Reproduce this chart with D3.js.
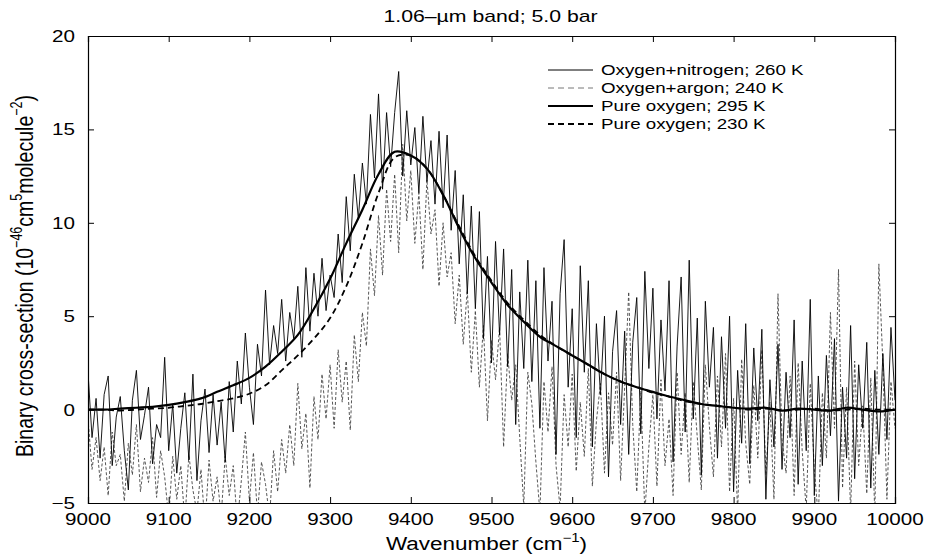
<!DOCTYPE html>
<html>
<head>
<meta charset="utf-8">
<script src="https://cdn.jsdelivr.net/npm/d3@7"></script>
<style>
  body { margin: 0; background: #fff; }
  svg { font-family: "Liberation Sans", Arial, sans-serif; }
</style>
</head>
<body>
<svg id="chart" width="928" height="559"></svg>
<script>
// sampling grids (cm-1)
var wnFine = d3.range(9000, 10001, 5)
var wnSmooth = d3.range(9000, 10001, 20)

// Oxygen+nitrogen; 260 K (thin solid)
var o2n2 = [2.0,-1.5,0.6,-2.6,0.8,1.8,-3.0,-0.4,0.7,-2.2,-4.3,0.5,2.1,-1.6,-0.3,1.2,-2.9,-0.8,-1.5,2.8,
  -2.2,0.3,-3.4,-1.0,0.9,-2.7,1.9,-3.8,-0.6,1.1,-2.3,0.8,-1.9,0.4,-2.8,1.5,-1.2,2.6,0.3,4.1,
  1.2,-0.8,3.5,1.8,6.4,2.4,4.5,3.0,5.9,2.6,5.2,3.8,6.6,2.8,7.6,4.2,7.3,5.0,8.1,5.3,
  7.2,6.0,9.4,6.8,11.4,8.5,12.6,10.2,13.2,11.0,15.8,12.4,16.9,11.8,15.9,13.0,15.9,18.1,12.5,16.0,
  13.1,15.1,11.6,15.7,12.2,14.4,11.0,14.9,10.8,14.7,9.6,12.8,7.8,11.5,6.2,10.9,5.4,10.6,3.8,8.2,
  2.5,9.0,4.0,8.6,2.3,7.5,-0.8,6.3,2.2,8.0,1.5,6.9,-1.0,7.6,2.6,5.8,-2.4,6.2,9.1,1.2,
  5.4,-1.5,7.7,2.0,6.9,-2.0,4.6,0.8,5.0,-3.6,3.1,5.3,-0.8,4.2,-2.4,3.6,6.0,-1.3,7.4,2.2,
  6.5,-0.5,4.8,1.0,6.9,-2.8,3.4,7.1,-1.2,8.0,-0.5,4.9,-3.5,5.8,1.2,4.4,-2.6,3.9,-1.0,5.0,
  -4.4,2.1,-1.8,4.6,-2.9,3.3,-0.6,4.3,-4.8,1.6,-2.0,3.5,-3.2,2.0,-1.5,4.8,-4.0,2.6,-2.2,5.9,
  -4.6,1.8,-3.0,2.9,-1.4,3.8,-4.9,1.2,-2.6,4.5,-3.7,2.4,-1.0,3.6,-4.2,2.1,-2.4,3.0,-1.6,4.4,
  0.5]

// Oxygen+argon; 240 K (thin grey dashed)
var o2ar = [-0.5,-3.2,-1.5,-3.8,-2.0,-4.6,-1.2,-3.0,-2.4,-4.9,-1.8,-3.5,-0.8,-4.4,-2.6,-3.9,-1.5,-4.7,-2.2,-3.6,
  -5.8,-2.5,-4.8,-3.0,-6.0,-2.4,-4.3,-5.5,-3.2,-6.2,-2.7,-4.9,-3.6,-5.7,-2.5,-4.6,-3.0,-6.1,-3.8,-1.2,
  -4.9,-2.3,-5.6,-2.8,-4.0,-5.8,-2.2,-4.4,-1.6,-3.4,-0.8,-3.0,1.4,-2.1,-0.2,-4.2,0.7,-1.6,1.9,-0.5,
  2.4,-1.0,3.2,0.4,2.6,-1.1,4.0,1.5,5.2,3.4,8.6,6.1,10.4,7.2,11.8,9.0,12.6,8.4,14.2,10.1,
  12.8,8.9,11.6,7.5,12.3,9.4,10.7,6.6,10.0,7.1,8.4,4.6,7.2,3.5,6.4,2.0,5.3,1.2,4.5,-0.6,
  3.7,1.6,4.4,-2.0,3.0,0.5,2.4,-1.5,-5.2,2.0,0.3,-2.8,-5.5,1.5,-1.2,2.3,-3.0,-5.3,0.8,-2.0,
  1.9,-3.3,0.4,-2.5,2.2,-4.1,-0.6,1.4,-3.4,0.9,-1.9,2.0,-3.8,1.2,6.3,-0.8,-4.4,1.0,-5.6,-2.0,
  0.8,-4.1,1.6,-3.0,-0.5,-4.6,2.0,-2.4,0.9,-3.9,1.5,-1.5,-4.3,2.4,-0.9,-3.6,1.8,-2.0,3.0,-4.4,
  0.6,-5.6,2.7,-1.8,-4.0,1.3,-2.6,3.2,-3.5,0.4,-4.8,6.2,-1.6,-3.4,1.8,-4.6,2.5,-2.2,-5.4,1.4,
  -3.2,-5.8,0.9,-2.6,5.2,-1.0,7.5,-4.2,1.2,-5.5,2.6,-3.0,0.2,-4.5,1.7,-5.7,7.8,2.4,-4.8,1.5,
  -1.0]

// Pure oxygen; 295 K (thick solid)
var o2warm = [0.0,0.0,0.05,0.1,0.15,0.25,0.4,0.6,0.95,1.3,1.7,2.3,3.1,4.0,5.4,7.0,8.9,10.7,12.6,13.8,
  13.6,12.9,11.5,9.7,8.1,6.8,5.6,4.7,3.9,3.4,2.9,2.4,1.9,1.5,1.2,0.95,0.7,0.5,0.3,0.2,
  0.1,0.05,0.1,-0.05,0.05,0.0,-0.05,0.1,0.0,-0.1,0.0]

// Pure oxygen; 230 K (thick dashed)
var o2cold = [0.0,0.0,-0.05,0.0,0.05,0.1,0.2,0.3,0.45,0.6,0.85,1.3,2.1,2.9,3.8,4.9,6.6,8.9,11.6,13.5,
  13.6,12.9,11.5,9.8,8.2,6.9,5.7,4.8,4.0,3.4,2.9,2.4,1.9,1.5,1.2,0.9,0.7,0.45,0.3,0.2,
  0.1,0.0,0.05,-0.05,0.0,0.05,-0.05,0.0,0.05,0.0,0.0]

var xTicks = [9000, 9100, 9200, 9300, 9400, 9500, 9600, 9700, 9800, 9900, 10000]
var yTicks = [-5, 0, 5, 10, 15, 20]
var names = ["Oxygen+nitrogen; 260 K", "Oxygen+argon; 240 K", "Pure oxygen; 295 K", "Pure oxygen; 230 K"]

// the original lettering is stretched sideways
var SX = 1.25

var svg = d3.select("#chart"),
  margin = {top: 36, right: 33, bottom: 56, left: 88},
  width = +svg.attr("width") - margin.left - margin.right,
  height = +svg.attr("height") - margin.top - margin.bottom,
  g = svg.append("g").attr("transform", "translate(" + margin.left + "," + margin.top + ")")

var x = d3.scaleLinear().domain([9000, 10000]).range([0, width])
var y = d3.scaleLinear().domain([-5, 20]).range([height, 0])

svg.append("defs").append("clipPath").attr("id", "clip")
  .append("rect").attr("width", width).attr("height", height)

var styles = [
  {data: o2n2, wn: wnFine, stroke: "#000", width: 0.9, dash: null},
  {data: o2ar, wn: wnFine, stroke: "#444", width: 0.9, dash: "3,2"},
  {data: o2warm, wn: wnSmooth, stroke: "#000", width: 2.2, dash: null},
  {data: o2cold, wn: wnSmooth, stroke: "#000", width: 1.8, dash: "6,4"}
]

var plot = g.append("g").attr("clip-path", "url(#clip)")
var drawOrder = [1, 0, 3, 2]
drawOrder.forEach(function(i) {
  var s = styles[i]
  var line = d3.line()
    .x(function(d, j) { return x(s.wn[j]) })
    .y(function(d) { return y(d) })
    .curve(i >= 2 ? d3.curveCatmullRom : d3.curveLinear)
  plot.append("path")
    .attr("fill", "none")
    .attr("stroke", s.stroke)
    .attr("stroke-width", s.width)
    .attr("stroke-dasharray", s.dash)
    .attr("stroke-linejoin", "round")
    .attr("d", line(s.data))
})

// axes: ticks pointing inward on all four sides, labels drawn separately
g.append("g").attr("transform", "translate(0," + height + ")")
  .call(d3.axisBottom(x).tickValues(xTicks).tickSize(-6).tickFormat(""))
g.append("g")
  .call(d3.axisTop(x).tickValues(xTicks).tickSize(-6).tickFormat(""))
g.append("g")
  .call(d3.axisLeft(y).tickValues(yTicks).tickSize(-6).tickFormat(""))
g.append("g").attr("transform", "translate(" + width + ",0)")
  .call(d3.axisRight(y).tickValues(yTicks).tickSize(-6).tickFormat(""))
g.selectAll(".domain").attr("stroke", "#000").attr("stroke-width", 1.2)
g.selectAll(".tick line").attr("stroke", "#000")

function stretched(parent, px, py, anchor, size) {
  return parent.append("text")
    .attr("transform", "translate(" + px + "," + py + ") scale(" + SX + ",1)")
    .attr("text-anchor", anchor)
    .style("font-size", size)
}

xTicks.forEach(function(t) {
  stretched(g, x(t), height + 22, "middle", "16.5px").text(t)
})
yTicks.forEach(function(t) {
  stretched(g, -13, y(t) + 6, "end", "16.5px").text(t < 0 ? "\u2212" + (-t) : t)
})

// title
stretched(svg, margin.left + width / 2 - 1, 22, "middle", "17px")
  .text("1.06\u2013\u00b5m band; 5.0 bar")

// x label
var xl = stretched(svg, margin.left + width / 2 - 5, 550, "middle", "18px")
xl.append("tspan").text("Wavenumber (cm")
xl.append("tspan").attr("dy", -8).style("font-size", "12px").text("\u22121")
xl.append("tspan").attr("dy", 8).text(")")

// y label
var yl = svg.append("text")
  .attr("transform", "translate(33,276) rotate(-90) scale(1," + SX + ")")
  .attr("text-anchor", "middle").style("font-size", "19.5px")
yl.append("tspan").text("Binary cross-section (10")
yl.append("tspan").attr("dy", -9).style("font-size", "12.5px").text("\u221246")
yl.append("tspan").attr("dy", 9).text("cm")
yl.append("tspan").attr("dy", -9).style("font-size", "12.5px").text("5")
yl.append("tspan").attr("dy", 9).text("molecule")
yl.append("tspan").attr("dy", -9).style("font-size", "12.5px").text("\u22122")
yl.append("tspan").attr("dy", 9).text(")")

// legend
var leg = svg.append("g").attr("transform", "translate(548,70)")
for (var i = 0; i < 4; i++) {
  leg.append("line")
    .attr("x1", 0).attr("x2", 45).attr("y1", i * 18).attr("y2", i * 18)
    .attr("stroke", i == 1 ? "#777" : "#000")
    .attr("stroke-width", i >= 2 ? 1.8 : 1)
    .attr("stroke-dasharray", styles[i].dash ? "6,4" : null)
  stretched(leg, 53, i * 18 + 5, "start", "15px").text(names[i])
}
</script>
</body>
</html>
